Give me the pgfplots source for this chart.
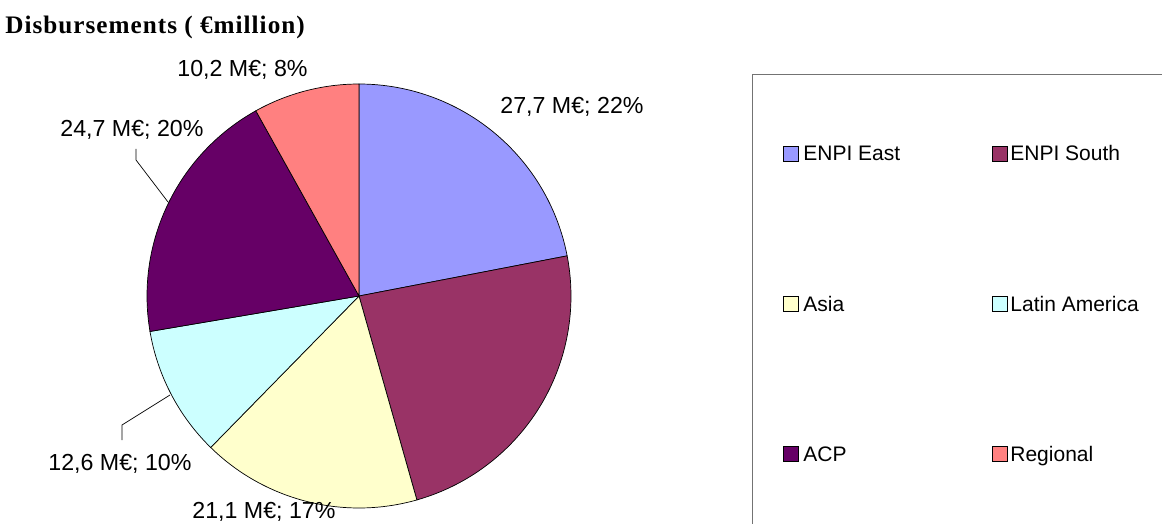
\documentclass[border=0pt]{standalone}
\usepackage{pgfplots}
\pgfplotsset{compat=1.18}
\usepackage{fontspec}
\setmainfont{Liberation Sans}
\newfontfamily\labfont{Liberation Sans}
\newfontfamily\titlefont[LetterSpace=4]{Liberation Serif}
\definecolor{cEast}{HTML}{9999FF}
\definecolor{cSouth}{HTML}{993366}
\definecolor{cAsia}{HTML}{FFFFCC}
\definecolor{cLat}{HTML}{CCFFFF}
\definecolor{cACP}{HTML}{660066}
\definecolor{cReg}{HTML}{FF8080}
% values in million euro
\def\vA{27.7}% ENPI East
\def\vB{29.8}% ENPI South
\def\vC{21.1}% Asia
\def\vD{12.6}% Latin America
\def\vE{24.7}% ACP
\def\vF{10.2}% Regional
\pgfmathsetmacro\tot{\vA+\vB+\vC+\vD+\vE+\vF}
\pgfmathsetmacro\aA{90}
\pgfmathsetmacro\aB{\aA-360*\vA/\tot}
\pgfmathsetmacro\aC{\aB-360*\vB/\tot}
\pgfmathsetmacro\aD{\aC-360*\vC/\tot}
\pgfmathsetmacro\aE{\aD-360*\vD/\tot}
\pgfmathsetmacro\aF{\aE-360*\vE/\tot}
\pgfmathsetmacro\aG{\aF-360*\vF/\tot}
\pgfplotsset{wedge/.style={draw=black, line width=0.35pt, samples=80, mark=none}}
\begin{document}
\begin{tikzpicture}
\begin{axis}[at={(179.5pt,-148pt)}, anchor=center, x=106pt, y=106pt,
  xmin=-1, xmax=1, ymin=-1, ymax=1, axis lines=none, clip=false]
\addplot[wedge, fill=cEast, domain=\aB:\aA] ({cos(x)},{sin(x)}) -- (0,0) -- cycle;
\addplot[wedge, fill=cSouth, domain=\aC:\aB] ({cos(x)},{sin(x)}) -- (0,0) -- cycle;
\addplot[wedge, fill=cAsia, domain=\aD:\aC] ({cos(x)},{sin(x)}) -- (0,0) -- cycle;
\addplot[wedge, fill=cLat, domain=\aE:\aD] ({cos(x)},{sin(x)}) -- (0,0) -- cycle;
\addplot[wedge, fill=cACP, domain=\aF:\aE] ({cos(x)},{sin(x)}) -- (0,0) -- cycle;
\addplot[wedge, fill=cReg, domain=\aG:\aF] ({cos(x)},{sin(x)}) -- (0,0) -- cycle;
\end{axis}
\begin{scope}[x=0.5pt,y=-0.5pt]
\useasboundingbox (0,0) rectangle (1162,524);
% title
\node[anchor=base west, inner sep=0pt] at (5,34) {\titlefont\fontsize{12.6}{14}\selectfont\bfseries Disbursements ( €million)};
% data labels
\begin{scope}[every node/.style={anchor=base west, inner sep=0pt, font=\labfont\fontsize{11.6}{13}\selectfont}]
\node at (177,77) {10,2 M€; 8\%};
\node at (500,113) {27,7 M€; 22\%};
\node at (60,137) {24,7 M€; 20\%};
\node at (48,470) {12,6 M€; 10\%};
\node at (192,518) {21,1 M€; 17\%};
\end{scope}
\draw[line width=0.35pt] (136,149) -- (136,160) -- (168,202);
\draw[line width=0.35pt] (122,440) -- (122,425) -- (170,395);
% legend
\draw[gray!90!black, line width=0.5pt] (752,526) -- (752,75) -- (1164,75);
\begin{scope}[every node/.style={anchor=base west, inner sep=0pt, font=\labfont\fontsize{10.5}{12}\selectfont}]
\filldraw[fill=cEast, draw=black, line width=0.3pt] (783,146) rectangle (798,161);
\node at (803,161) {ENPI East};
\filldraw[fill=cSouth, draw=black, line width=0.3pt] (992,146) rectangle (1007,161);
\node at (1010,161) {ENPI South};
\filldraw[fill=cAsia, draw=black, line width=0.3pt] (783,296) rectangle (798,311);
\node at (803,311) {Asia};
\filldraw[fill=cLat, draw=black, line width=0.3pt] (992,296) rectangle (1007,311);
\node at (1010,311) {Latin America};
\filldraw[fill=cACP, draw=black, line width=0.3pt] (783,446) rectangle (798,461);
\node at (803,461) {ACP};
\filldraw[fill=cReg, draw=black, line width=0.3pt] (992,446) rectangle (1007,461);
\node at (1010,461) {Regional};
\end{scope}
\end{scope}
\end{tikzpicture}
\end{document}
